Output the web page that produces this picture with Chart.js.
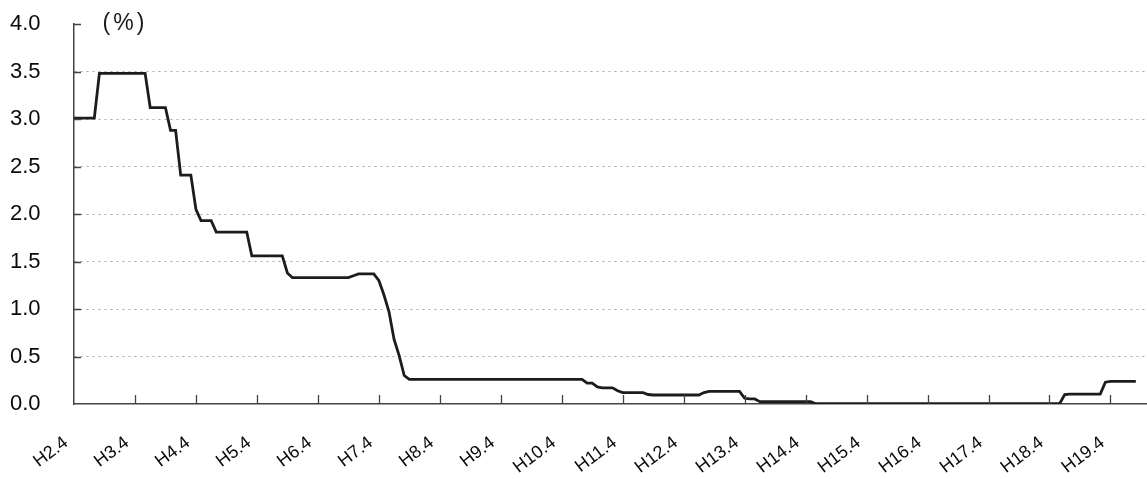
<!DOCTYPE html>
<html>
<head>
<meta charset="utf-8">
<script src="https://cdn.jsdelivr.net/npm/chart.js@4/dist/chart.umd.min.js"></script>
<style>
  html, body { margin: 0; padding: 0; background: #fff; }
  #wrap { width: 1147px; height: 479px; }
</style>
</head>
<body>
<div id="wrap"><canvas id="rateChart"></canvas></div>
<script>
// tick labels shown on the x axis (one per year, April)
const yearTicks = ['H2.4', 'H3.4', 'H4.4', 'H5.4', 'H6.4', 'H7.4', 'H8.4', 'H9.4', 'H10.4',
  'H11.4', 'H12.4', 'H13.4', 'H14.4', 'H15.4', 'H16.4', 'H17.4', 'H18.4', 'H19.4'];

// monthly rate (%), one row per fiscal year, April..March
const rates = [
  3.01, 3.01, 3.01, 3.01, 3.01, 3.48, 3.48, 3.48, 3.48, 3.48, 3.48, 3.48,        // H2
  3.48, 3.48, 3.48, 3.12, 3.12, 3.12, 3.12, 2.88, 2.88, 2.41, 2.41, 2.41,        // H3
  2.05, 1.93, 1.93, 1.93, 1.81, 1.81, 1.81, 1.81, 1.81, 1.81, 1.81, 1.56,        // H4
  1.56, 1.56, 1.56, 1.56, 1.56, 1.56, 1.38, 1.33, 1.33, 1.33, 1.33, 1.33,        // H5
  1.33, 1.33, 1.33, 1.33, 1.33, 1.33, 1.33, 1.35, 1.37, 1.37, 1.37, 1.37,        // H6
  1.30, 1.15, 0.97, 0.68, 0.51, 0.30, 0.26, 0.26, 0.26, 0.26, 0.26, 0.26,        // H7
  0.26, 0.26, 0.26, 0.26, 0.26, 0.26, 0.26, 0.26, 0.26, 0.26, 0.26, 0.26,        // H8
  0.26, 0.26, 0.26, 0.26, 0.26, 0.26, 0.26, 0.26, 0.26, 0.26, 0.26, 0.26,        // H9
  0.26, 0.26, 0.26, 0.26, 0.26, 0.22, 0.22, 0.18, 0.17, 0.17, 0.17, 0.14,        // H10
  0.12, 0.12, 0.12, 0.12, 0.12, 0.10, 0.095, 0.095, 0.095, 0.095, 0.095, 0.095,  // H11
  0.095, 0.095, 0.095, 0.095, 0.12, 0.133, 0.133, 0.133, 0.133, 0.133, 0.133, 0.133, // H12
  0.06, 0.053, 0.053, 0.025, 0.025, 0.025, 0.025, 0.025, 0.025, 0.025, 0.025, 0.025, // H13
  0.025, 0.025, 0.003, 0.003, 0.003, 0.003, 0.003, 0.003, 0.003, 0.003, 0.003, 0.003, // H14
  0.003, 0.003, 0.003, 0.003, 0.003, 0.003, 0.003, 0.003, 0.003, 0.003, 0.003, 0.003, // H15
  0.003, 0.003, 0.003, 0.003, 0.003, 0.003, 0.003, 0.003, 0.003, 0.003, 0.003, 0.003, // H16
  0.003, 0.003, 0.003, 0.003, 0.003, 0.003, 0.003, 0.003, 0.003, 0.003, 0.003, 0.003, // H17
  0.003, 0.003, 0.003, 0.10, 0.105, 0.105, 0.105, 0.105, 0.105, 0.105, 0.105, 0.23,   // H18
  0.238, 0.238, 0.238, 0.238, 0.238, 0.238                                           // H19
];

// y axis ticks
const yMin = 0, yMax = 4, yStep = 0.5;

// month categories H2.4 .. H20.3 (the axis runs a little past the last point)
const months = [];
for (let i = 0; i < 212; i++) {
  const y = 2 + Math.floor((i + 3) / 12);
  const m = ((i + 3) % 12) + 1;
  months.push('H' + y + '.' + m);
}

const font = "'Liberation Sans', Arial, sans-serif";

// inward tick marks and the (%) unit
const axisMarks = {
  id: 'axisMarks',
  afterDatasetsDraw(chart) {
    const { ctx, chartArea, scales: { x, y } } = chart;
    ctx.save();
    ctx.strokeStyle = '#444';
    ctx.lineWidth = 1.3;
    ctx.beginPath();
    months.forEach((lab, i) => {
      if (yearTicks.includes(lab) && i > 0) {
        const px = Math.round(x.getPixelForValue(i)) + 0.5;
        ctx.moveTo(px, chartArea.bottom);
        ctx.lineTo(px, chartArea.bottom - 9);
      }
    });
    for (let v = yStep; v <= yMax; v += yStep) {
      const py = Math.round(y.getPixelForValue(v)) + 0.5;
      ctx.moveTo(chartArea.left, py);
      ctx.lineTo(chartArea.left + 7, py);
    }
    ctx.stroke();
    ctx.fillStyle = '#1a1a1a';
    ctx.font = '23px ' + font;
    ctx.letterSpacing = '3px';
    ctx.textAlign = 'center';
    ctx.textBaseline = 'middle';
    ctx.fillText('(%)', chartArea.left + 51, chartArea.top);
    ctx.restore();
  }
};

new Chart(document.getElementById('rateChart'), {
  type: 'line',
  data: {
    labels: months,
    datasets: [{
      data: rates,
      borderColor: '#1c1c1c',
      borderWidth: 2.8,
      pointRadius: 0,
      tension: 0,
      fill: false
    }]
  },
  options: {
    responsive: true,
    maintainAspectRatio: false,
    animation: false,
    layout: { padding: { top: 24, right: 1, left: 10, bottom: 0 } },
    plugins: { legend: { display: false }, tooltip: { enabled: false } },
    scales: {
      x: {
        offset: false,
        afterFit(scale) { scale.height = 75; },
        grid: { display: false, drawTicks: false },
        border: { color: '#444', width: 1.5 },
        ticks: {
          autoSkip: false,
          minRotation: 37,
          maxRotation: 37,
          padding: 22,
          color: '#0a0a0a',
          font: { family: font, size: 18 },
          callback(val) {
            const lab = months[val];
            return yearTicks.includes(lab) ? lab + '  ' : null;
          }
        }
      },
      y: {
        min: yMin,
        max: yMax,
        afterFit(scale) { scale.width = 64; },
        border: { color: '#444', width: 1.5, dash: [2, 4] },
        grid: {
          drawTicks: false,
          color: ctx => (ctx.tick && ctx.tick.value > 0 && ctx.tick.value < yMax) ? '#a8a8a8' : 'rgba(0,0,0,0)',
          lineWidth: 1
        },
        ticks: {
          stepSize: yStep,
          padding: 0,
          crossAlign: 'far',
          color: '#0a0a0a',
          font: { family: font, size: 22 },
          callback: v => v.toFixed(1)
        }
      }
    }
  },
  plugins: [axisMarks]
});
</script>
</body>
</html>
